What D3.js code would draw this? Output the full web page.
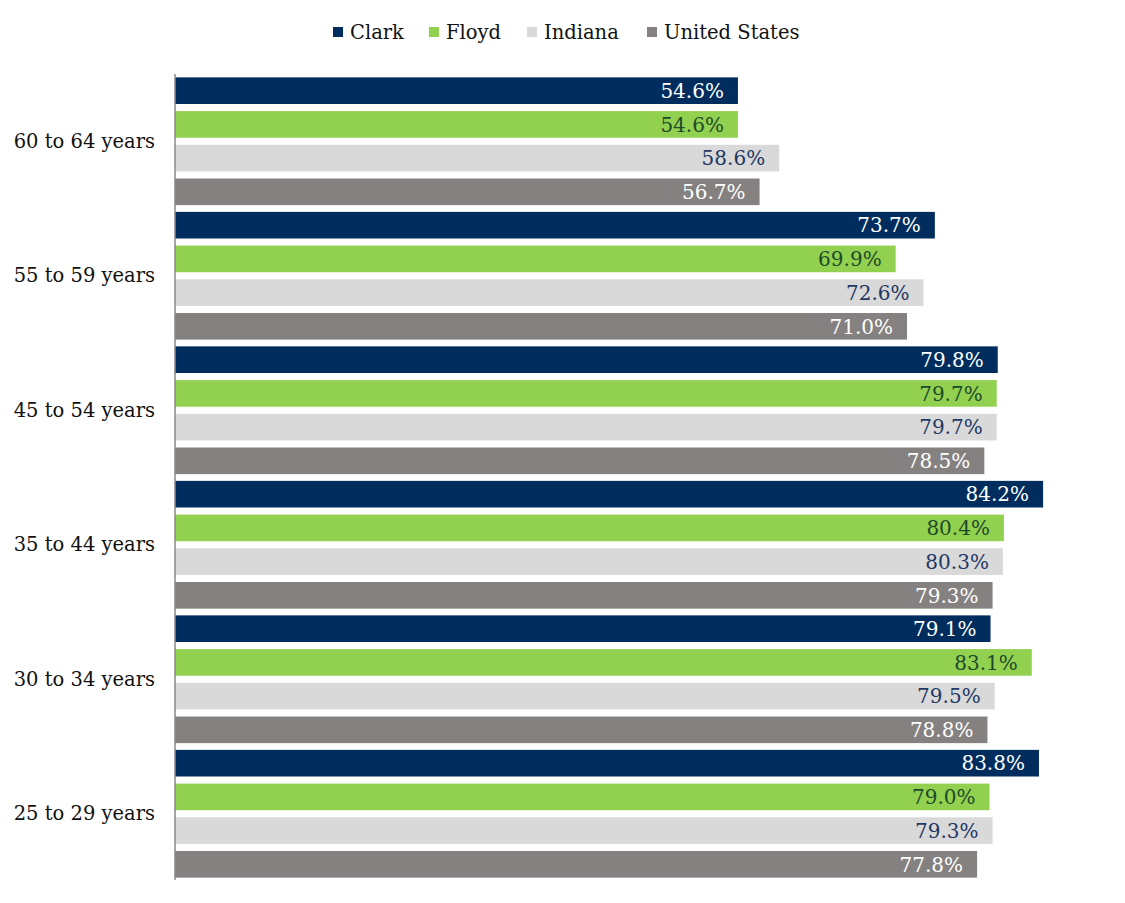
<!DOCTYPE html>
<html>
<head>
<meta charset="utf-8">
<script src="https://cdn.jsdelivr.net/npm/d3@7"></script>
<style>
  body { margin: 0; background: #fff; }
  svg { font-family: Georgia, 'DejaVu Serif', serif; }
</style>
</head>
<body>
<script>
// age groups, top to bottom
const ageGroups = ['60 to 64 years', '55 to 59 years', '45 to 54 years', '35 to 44 years', '30 to 34 years', '25 to 29 years'];
const seriesNames = ['Clark', 'Floyd', 'Indiana', 'United States'];

const clark = [54.6, 73.7, 79.8, 84.2, 79.1, 83.8];
const floyd = [54.6, 69.9, 79.7, 80.4, 83.1, 79.0];
const indiana = [58.6, 72.6, 79.7, 80.3, 79.5, 79.3];
const unitedStates = [56.7, 71.0, 78.5, 79.3, 78.8, 77.8];

const seriesValues = [clark, floyd, indiana, unitedStates];
const barColors = ['#002d5e', '#92d050', '#d9d9d9', '#858181'];
const labelColors = ['#ffffff', '#1d4a2a', '#1f3864', '#ffffff'];

const width = 1125;
const height = 903;
const marginTop = 74;
const marginBottom = 22;
const marginLeft = 175;

const svg = d3.select('body').append('svg')
  .attr('width', width)
  .attr('height', height);

const x = d3.scaleLinear()
  .domain([0, 100])
  .range([marginLeft, marginLeft + 1031]);

const y0 = d3.scaleBand()
  .domain(ageGroups)
  .range([marginTop, height - marginBottom]);

const y1 = d3.scaleBand()
  .domain(seriesNames)
  .range([0, y0.bandwidth()])
  .paddingInner(0.21)
  .paddingOuter(0.1);

const rows = [];
ageGroups.forEach((g, i) => {
  seriesNames.forEach((s, j) => {
    rows.push({ group: g, series: s, idx: j, value: seriesValues[j][i] });
  });
});

// bars
const gBars = svg.append('g');
gBars.selectAll('rect')
  .data(rows)
  .join('rect')
  .attr('x', x(0))
  .attr('y', (d) => y0(d.group) + y1(d.series))
  .attr('width', (d) => x(d.value) - x(0))
  .attr('height', y1.bandwidth())
  .attr('fill', (d) => barColors[d.idx]);

// value labels inside bar ends
gBars.selectAll('text')
  .data(rows)
  .join('text')
  .attr('x', (d) => x(d.value) - 14)
  .attr('y', (d) => y0(d.group) + y1(d.series) + y1.bandwidth() / 2)
  .attr('dy', '0.36em')
  .attr('text-anchor', 'end')
  .attr('font-size', 20)
  .attr('fill', (d) => labelColors[d.idx])
  .text((d) => d.value.toFixed(1) + '%');

// category axis
const yAxis = svg.append('g')
  .attr('transform', `translate(${marginLeft},0)`)
  .call(d3.axisLeft(y0).tickSize(0).tickPadding(20));
yAxis.select('.domain')
  .attr('stroke', '#888')
  .attr('stroke-width', 1.5)
  .attr('d', `M0,${marginTop}V${height - marginBottom - 1}`);
yAxis.selectAll('text')
  .attr('font-size', 19.5)
  .attr('font-family', "Georgia, 'DejaVu Serif', serif")
  .attr('fill', '#111');

// legend
const legendX = [333, 429, 527, 647];
const legend = svg.append('g');
const item = legend.selectAll('g')
  .data(seriesNames)
  .join('g')
  .attr('transform', (d, i) => `translate(${legendX[i]},32)`);
item.append('rect')
  .attr('x', 0)
  .attr('y', -5)
  .attr('width', 10)
  .attr('height', 10)
  .attr('fill', (d, i) => barColors[i]);
item.append('text')
  .attr('x', 17)
  .attr('dy', '0.36em')
  .attr('font-size', 19.5)
  .attr('fill', '#111')
  .text((d) => d);
</script>
</body>
</html>
